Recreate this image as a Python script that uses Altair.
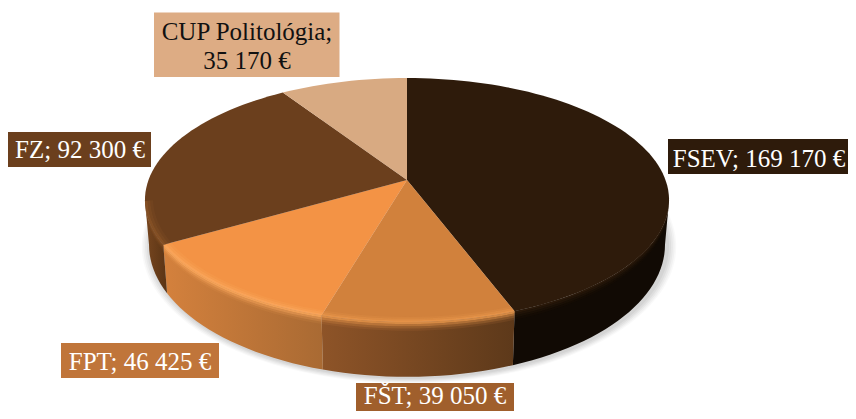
import math
import altair as alt

# ---- chart data ----
categories = ["FSEV", "FŠT", "FPT", "FZ", "CUP Politológia"]
values = [169170, 39050, 46425, 92300, 35170]
top_colors = ["#2E1B0B", "#D1813C", "#F39345", "#6B3F1D", "#D8AA82"]
highlight_colors = ["#2E1B0B", "#E8964B", "#FAA85C", "#8A5427", "#D8AA82"]
side_left = ["#110A04", "#8E5428", "#D4813D", "#77461F", "#B98D69"]
side_right = ["#110A04", "#5D391A", "#A96A33", "#5A3415", "#B98D69"]
box_colors = ["#2E1B0B", "#A05F2C", "#C0753A", "#6B3F1D", "#DDAC84"]
text_colors = ["#FFFFFF", "#FFFFFF", "#FFFFFF", "#FFFFFF", "#111111"]

# ---- projection of the tilted disc (pixels of the picture) ----
CX, CY, R, S, K = 407.0, 180.0, 258.5, 118.7, 0.164
CX2, CY2, R2, S2 = 407.0, 223.0, 254.5, 128.6


def project(deg, level=0.0, f=1.0):
    t = math.radians(deg)
    w = 1 + K * f * math.cos(t)
    r = R + (R2 - R) * level
    s = S + (S2 - S) * level
    cy = CY + (CY2 - CY) * level
    return CX + r * f * math.sin(t) / w, cy - s * f * math.cos(t) / w


def frange(a, b, step=2.0):
    n = max(2, int(abs(b - a) / step) + 1)
    return [a + (b - a) * i / (n - 1) for i in range(n)]


xs = alt.X("x:Q", scale=alt.Scale(domain=[8, 848], nice=False, zero=False), axis=None)
ys = alt.Y("y:Q", scale=alt.Scale(domain=[8, 411], nice=False, zero=False, reverse=True), axis=None)


def poly(points, fill, opacity=1.0):
    rows = [{"x": p[0], "y": p[1], "i": i} for i, p in enumerate(points)]
    return alt.Chart(alt.Data(values=rows)).mark_line(
        interpolate="linear-closed", fill=fill, strokeWidth=0, fillOpacity=opacity, clip=False
    ).encode(x=xs, y=ys, order=alt.Order("i:Q"))


def hgrad(c0, c1):
    return alt.Gradient(
        gradient="linear", x1=0, x2=1, y1=0, y2=0,
        stops=[alt.GradientStop(color=c0, offset=0), alt.GradientStop(color=c1, offset=1)],
    )


total = sum(values)
edges = [0.0]
for v in values:
    edges.append(edges[-1] + v / total * 360)

layers = []

# soft shadow under the disc
for grow, op in [(1.036, 0.025), (1.03, 0.03), (1.023, 0.035), (1.016, 0.04), (1.008, 0.045)]:
    pts = []
    for a in frange(0, 358):
        x, y = project(a, 1.0)
        pts.append((CX + 2 + (x - CX) * grow, CY2 + 1 + (y - CY2) * grow))
    layers.append(poly(pts, "#000000", op))

# side wall: only the part between the two silhouette tangents
VIS0 = math.degrees(math.acos(-K))
VIS1 = 360 - VIS0
for i in range(len(values)):
    a0, a1 = max(edges[i], VIS0), min(edges[i + 1], VIS1)
    if a1 <= a0:
        continue
    angles = frange(a0, a1)
    pts = [project(a, 0.0) for a in angles] + [project(a, 1.0) for a in reversed(angles)]
    layers.append(poly(pts, hgrad(side_left[i], side_right[i])))
    for l0, l1, op in [(0.0, 0.04, 0.85), (0.04, 0.08, 0.55), (0.08, 0.12, 0.28), (0.12, 0.16, 0.1)]:
        pts = [project(a, l0) for a in angles] + [project(a, l1) for a in reversed(angles)]
        layers.append(poly(pts, highlight_colors[i] if i != 0 else top_colors[i], op))

# top surface
for i in range(len(values)):
    angles = frange(edges[i], edges[i + 1])
    pts = [(CX, CY)] + [project(a) for a in angles]
    layers.append(poly(pts, top_colors[i]))
    if highlight_colors[i] != top_colors[i]:
        aa = [a for a in angles if VIS0 <= a <= VIS1] or angles
        for f0, f1, op in [(1.0, 0.99, 0.8), (0.99, 0.98, 0.45), (0.98, 0.97, 0.2)]:
            pts = [project(a, 0.0, f0) for a in aa] + [project(a, 0.0, f1) for a in reversed(aa)]
            layers.append(poly(pts, highlight_colors[i], op))

# labels: box x0, x1, y0, y1 and text centre / baselines in the picture
boxes = {
    "FSEV": (668, 848, 139, 174, 759, [167]),
    "FŠT": (356, 514, 383, 411, 435, [404]),
    "FPT": (61, 219, 343, 378, 140, [370]),
    "FZ": (8, 151, 132, 167, 80, [158]),
    "CUP Politológia": (154, 339.5, 12.5, 77, 247, [40, 69]),
}
FONT = "Liberation Serif"
for i, name in enumerate(categories):
    x0, x1, y0, y1, tx, bases = boxes[name]
    money = f"{values[i]:,}".replace(",", " ") + " €"
    layers.append(
        alt.Chart(alt.Data(values=[{"x": x0, "x2": x1, "y": y0, "y2": y1}])).mark_rect(color=box_colors[i]).encode(
            x=xs, x2="x2:Q", y=ys, y2="y2:Q"
        )
    )
    lines = [name + ";", money] if len(bases) == 2 else [f"{name}; {money}"]
    rows = [{"x": tx, "y": b, "t": t} for b, t in zip(bases, lines)]
    layers.append(
        alt.Chart(alt.Data(values=rows)).mark_text(
            font=FONT, fontSize=25, color=text_colors[i], align="center", baseline="alphabetic"
        ).encode(x=xs, y=ys, text="t:N")
    )

chart = (
    alt.layer(*layers)
    .properties(width=840, height=403, padding=0, background="#FFFFFF", autosize=alt.AutoSizeParams(type="none"))
    .configure_view(stroke=None)
)
chart.save("out.html", embed_options={"renderer": "svg", "actions": False})
